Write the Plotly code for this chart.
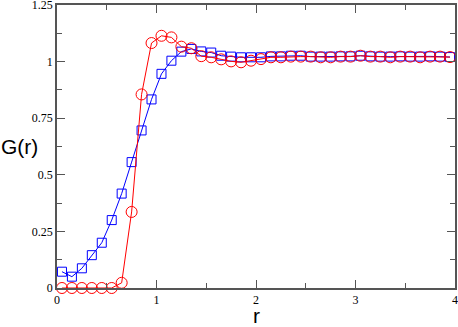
import plotly.graph_objects as go

# sampling points
r = [0.05, 0.15, 0.25, 0.35, 0.45, 0.55, 0.65, 0.75, 0.85, 0.95,
     1.05, 1.15, 1.25, 1.35, 1.45, 1.55, 1.65, 1.75, 1.85, 1.95,
     2.05, 2.15, 2.25, 2.35, 2.45, 2.55, 2.65, 2.75, 2.85, 2.95,
     3.05, 3.15, 3.25, 3.35, 3.45, 3.55, 3.65, 3.75, 3.85, 3.95]

# red circles
g_red = [0.0, 0.0, 0.0, 0.0, 0.0, 0.0, 0.023, 0.336, 0.855, 1.082,
         1.114, 1.107, 1.066, 1.059, 1.024, 1.019, 1.010, 1.001, 0.997, 1.004,
         1.011, 1.019, 1.019, 1.022, 1.022, 1.022, 1.019, 1.019, 1.022, 1.022,
         1.026, 1.022, 1.022, 1.019, 1.022, 1.022, 1.019, 1.022, 1.022, 1.020]

# blue squares
g_blue = [0.072, 0.050, 0.087, 0.145, 0.200, 0.300, 0.417, 0.556, 0.696, 0.833,
          0.946, 1.004, 1.044, 1.056, 1.045, 1.040, 1.026, 1.022, 1.019, 1.019,
          1.019, 1.023, 1.023, 1.026, 1.026, 1.022, 1.022, 1.022, 1.023, 1.023,
          1.026, 1.023, 1.022, 1.022, 1.023, 1.022, 1.022, 1.023, 1.022, 1.020]

x_ticks = [0, 1, 2, 3, 4]
y_ticks = [0, 0.25, 0.5, 0.75, 1, 1.25]
y_labels = ["0", "0.25", "0.5", "0.75", "1", "1.25"]

fig = go.Figure()
fig.add_trace(go.Scatter(
    x=r, y=g_blue, mode="lines+markers",
    line=dict(color="#0000ff", width=1),
    marker=dict(symbol="square-open", size=9, color="#0000ff", line=dict(width=1)),
    showlegend=False, cliponaxis=False))
fig.add_trace(go.Scatter(
    x=r, y=g_red, mode="lines+markers",
    line=dict(color="#ff0000", width=1),
    marker=dict(symbol="circle-open", size=11, color="#ff0000", line=dict(width=1)),
    showlegend=False, cliponaxis=False))

axis_common = dict(
    showline=True, linecolor="#555555", linewidth=1.5, mirror="ticks",
    ticks="inside", ticklen=8, tickcolor="#555555", tickwidth=1,
    showgrid=False, zeroline=False, automargin=False,
    ticklabeloverflow="allow",
    tickfont=dict(family="Liberation Serif", size=12, color="black"),
)

fig.update_xaxes(
    range=[0, 4.0001], tickvals=x_ticks,
    minor=dict(ticks="inside", ticklen=5, dtick=0.5, tickcolor="#555555", showgrid=False),
    **axis_common)
fig.update_yaxes(
    range=[0, 1.25001], tickvals=y_ticks, ticktext=y_labels,
    minor=dict(ticks="inside", ticklen=5, dtick=0.125, tickcolor="#555555", showgrid=False),
    **axis_common)

title_font = dict(family="Liberation Sans", size=21, color="black")
fig.add_annotation(text="r", xref="paper", yref="paper", x=0.5, y=-0.096,
                   xanchor="center", yanchor="middle", showarrow=False, font=title_font)
fig.add_annotation(text="G(r)", xref="paper", yref="paper", x=-0.093, y=0.5,
                   xanchor="center", yanchor="middle", showarrow=False, font=title_font)

fig.update_layout(
    width=458, height=327,
    margin=dict(l=57, r=3, t=5, b=39),
    plot_bgcolor="white", paper_bgcolor="white",
)

# drop the default page margin so the figure sits at the window's corner
fig.write_html("out.html", config={"displayModeBar": False},
               post_script="document.body.style.margin='0';")
